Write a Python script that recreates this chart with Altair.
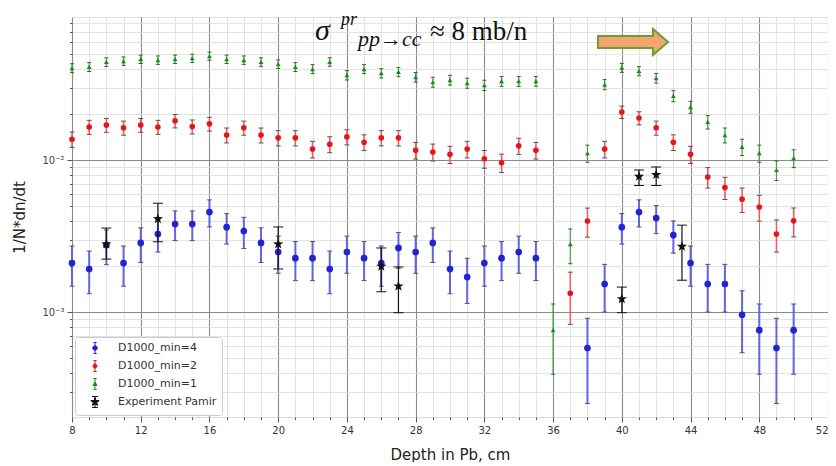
import altair as alt
import pandas as pd

# ---------------- data ----------------
depth_blue = list(range(8, 36)) + list(range(38, 51))
val_blue = [0.0021, 0.00192, 0.00276, 0.0021, 0.00285, 0.00326, 0.00379, 0.00379, 0.00455, 0.00362,
            0.00341, 0.00285, 0.00248, 0.00226, 0.00226, 0.00192, 0.00248, 0.00226, 0.0021, 0.00264,
            0.00248, 0.00285, 0.00192, 0.0017, 0.0021, 0.00226, 0.00248, 0.00226,
            0.00058, 0.00153, 0.00362, 0.00455, 0.00415, 0.00321, 0.0021, 0.00153, 0.00153, 0.00096,
            0.00076, 0.00058, 0.00076]
err_blue = [0.00062, 0.00060, 0.00071, 0.00062, 0.00073, 0.00078, 0.00084, 0.00084, 0.00092, 0.00082,
            0.00079, 0.00073, 0.00068, 0.00065, 0.00065, 0.00060, 0.00068, 0.00065, 0.00062, 0.00070,
            0.00068, 0.00073, 0.00060, 0.00056, 0.00062, 0.00065, 0.00068, 0.00065,
            0.00033, 0.00053, 0.00082, 0.00092, 0.00087, 0.00077, 0.00062, 0.00053, 0.00053, 0.00042,
            0.00037, 0.00033, 0.00037]

depth_red = list(range(8, 36)) + list(range(37, 51))
val_red = [0.0137, 0.0165, 0.0170, 0.0163, 0.0170, 0.0165, 0.0181, 0.0166, 0.0173, 0.0146,
           0.0163, 0.0146, 0.0140, 0.0140, 0.0118, 0.0127, 0.0142, 0.0131, 0.0140, 0.0140,
           0.0116, 0.0113, 0.0109, 0.0118, 0.0102, 0.0096, 0.0124, 0.0116,
           0.00133, 0.00397, 0.0118, 0.0207, 0.0189, 0.0163, 0.0131, 0.0109, 0.00773, 0.0066,
           0.00553, 0.00491, 0.00326, 0.00398]
err_red = [0.00159, 0.00175, 0.00177, 0.00173, 0.00177, 0.00175, 0.00183, 0.00175, 0.00179, 0.00164,
           0.00173, 0.00164, 0.00161, 0.00161, 0.00148, 0.00153, 0.00162, 0.00155, 0.00161, 0.00161,
           0.00146, 0.00144, 0.00142, 0.00148, 0.00137, 0.00133, 0.00151, 0.00146,
           0.00050, 0.00086, 0.00148, 0.00195, 0.00187, 0.00173, 0.00155, 0.00142, 0.00119, 0.00110,
           0.00101, 0.00095, 0.00078, 0.00086]

depth_green = list(range(8, 51))
val_green = [0.0403, 0.041, 0.0442, 0.0448, 0.0461, 0.0455, 0.0461, 0.0468, 0.0483, 0.0461,
             0.0455, 0.0442, 0.0428, 0.041, 0.0397, 0.0442, 0.0362, 0.0397, 0.0373, 0.0380,
             0.0351, 0.0326, 0.0336, 0.0321, 0.0311, 0.0330, 0.0330, 0.0330,
             0.00076, 0.0028, 0.0111, 0.0314, 0.0405, 0.0385, 0.0346, 0.0264, 0.0223, 0.0178,
             0.0146, 0.0122, 0.0111, 0.0086, 0.0103]
err_green = [0.00273, 0.00275, 0.00285, 0.00287, 0.00292, 0.0029, 0.00292, 0.00294, 0.00298, 0.00292,
             0.0029, 0.00285, 0.00281, 0.00275, 0.0027, 0.00285, 0.00258, 0.0027, 0.00262, 0.00265,
             0.00254, 0.00245, 0.00249, 0.00243, 0.0024, 0.00247, 0.00247, 0.00247,
             0.00037, 0.00072, 0.00143, 0.00241, 0.00273, 0.00266, 0.00253, 0.00221, 0.00203, 0.00181,
             0.00164, 0.0015, 0.00143, 0.00126, 0.00138]

star_depth = [10, 13, 20, 26, 27, 40, 41, 42, 43.5]
star_val = [0.0028, 0.0041, 0.0028, 0.0020, 0.00148, 0.00122, 0.0078, 0.0080, 0.0027]
star_lo = [0.00223, 0.0029, 0.00192, 0.00136, 0.00099, 0.00099, 0.0068, 0.0068, 0.00162]
star_hi = [0.00357, 0.0052, 0.00363, 0.00264, 0.00198, 0.00146, 0.0086, 0.0090, 0.00373]

series_names = ["D1000_min=4", "D1000_min=2", "D1000_min=1", "Experiment Pamir"]
x_ticks = list(range(8, 53))
y_ticks = [k * 10.0 ** e for e in (-4, -3, -2) for k in range(1, 10) if k * 10.0 ** e > 2.0e-4]

# ---------------- styling ----------------
COLORS = ["#2323d2", "#e3161c", "#1b8c1b", "#111111"]
BAR_COLORS = ["#6464e4", "#f05a5a", "#44a044", "#111111"]
STAR = ("M0,-1L0.243,-0.334L0.951,-0.309L0.393,0.128L0.588,0.809L0,0.413L-0.588,0.809"
        "L-0.393,0.128L-0.951,-0.309L-0.243,-0.334Z")
CIRC = "M{r},0A{r},{r} 0 1,1 -{r},0A{r},{r} 0 1,1 {r},0Z"
BAR = "M0,-1L0,1M-{c},-1L{c},-1M-{c},1L{c},1"
LEG_SHAPES = [
    BAR.format(c=0.3) + CIRC.format(r=0.42),
    BAR.format(c=0.3) + CIRC.format(r=0.36),
    BAR.format(c=0.3) + "M0,-0.38L0.36,0.28L-0.36,0.28Z",
    BAR.format(c=0.55) + "M0,-0.8L0.194,-0.267L0.761,-0.247L0.314,0.102L0.470,0.647L0,0.33"
                         "L-0.470,0.647L-0.314,0.102L-0.761,-0.247L-0.194,-0.267Z",
]
ARROW = "M-1,-0.17L0.57,-0.17L0.57,-0.37L1,0L0.57,0.37L0.57,0.17L-1,0.17Z"

def frame(depths, vals, lo, hi, name):
    return pd.DataFrame({"depth": depths, "value": vals, "lo": lo, "hi": hi, "series": name})

dfs = [
    frame(depth_blue, val_blue, [v - e for v, e in zip(val_blue, err_blue)],
          [v + e for v, e in zip(val_blue, err_blue)], series_names[0]),
    frame(depth_red, val_red, [v - e for v, e in zip(val_red, err_red)],
          [v + e for v, e in zip(val_red, err_red)], series_names[1]),
    frame(depth_green, val_green, [v - e for v, e in zip(val_green, err_green)],
          [v + e for v, e in zip(val_green, err_green)], series_names[2]),
    frame(star_depth, star_val, star_lo, star_hi, series_names[3]),
]

major_x = "datum.value % 4 === 0"
major_y = "abs(log(datum.value)/LN10 - round(log(datum.value)/LN10)) < 0.001"

xaxis = alt.Axis(
    values=x_ticks,
    labelExpr="datum.value % 4 === 0 ? datum.label : ''",
    labelFont="DejaVu Sans", labelFontSize=10, labelColor="#333333", labelPadding=3,
    labelOverlap=False, labelFlush=False,
    labelAlign={"condition": {"test": "datum.value === 52", "value": "right"}, "value": "center"},
    tickColor="#555555",
    tickSize={"condition": {"test": major_x, "value": 5}, "value": 2.5},
    gridColor={"condition": {"test": major_x, "value": "#8a8a8a"}, "value": "#dcdcdc"},
    gridWidth={"condition": {"test": major_x, "value": 1.1}, "value": 0.8},
    domain=False,
    titleFont="DejaVu Sans", titleFontSize=15, titleFontWeight="normal", titleColor="#222222",
    titlePadding=12,
)
yaxis = alt.Axis(
    values=y_ticks,
    labelExpr="abs(datum.value - 0.01) < 1e-9 ? '10⁻²' : (abs(datum.value - 0.001) < 1e-10 ? '10⁻³' : '')",
    labelFont="DejaVu Sans", labelFontSize=10, labelColor="#444444", labelPadding=3,
    labelOverlap=False, labelFlush=False,
    tickColor="#555555",
    tickSize={"condition": {"test": major_y, "value": 5}, "value": 2.5},
    gridColor={"condition": {"test": major_y, "value": "#8a8a8a"}, "value": "#dcdcdc"},
    gridWidth={"condition": {"test": major_y, "value": 1.1}, "value": 0.8},
    domain=False,
    titleFont="DejaVu Sans", titleFontSize=15, titleFontWeight="normal", titleColor="#222222",
    titlePadding=14,
)
xscale = alt.Scale(domain=[8, 52], nice=False, zero=False)
yscale = alt.Scale(type="log", domain=[2.04e-4, 0.0873], nice=False)
XT = "Depth in Pb, cm"
YT = "1/N*dn/dt"

def X(f="depth"):
    return alt.X(f, type="quantitative", scale=xscale, axis=xaxis, title=XT)

def Y(f):
    return alt.Y(f, type="quantitative", scale=yscale, axis=yaxis, title=YT)

layers = []
marker_specs = [
    dict(shape="circle", size=45),
    dict(shape="circle", size=32),
    dict(shape="triangle-up", size=24),
    dict(shape=STAR, size=115),
]
bar_widths = [2, 1.5, 1.2, 1.2]
cap_sizes = [5, 5, 4, 10]
cap_colors = ["#555555", "#555555", "#3a5a3a", "#111111"]

for i, d in enumerate(dfs):
    base = alt.Chart(d)
    layers.append(base.mark_rule(color=BAR_COLORS[i], strokeWidth=bar_widths[i]).encode(
        x=X(), y=Y("lo"), y2="hi"))
    layers.append(base.mark_tick(orient="horizontal", size=cap_sizes[i], thickness=1,
                                 color=cap_colors[i], opacity=1).encode(x=X(), y=Y("lo")))
    layers.append(base.mark_tick(orient="horizontal", size=cap_sizes[i], thickness=1,
                                 color=cap_colors[i], opacity=1).encode(x=X(), y=Y("hi")))
    layers.append(base.mark_point(filled=True, opacity=1, color=COLORS[i],
                                  **marker_specs[i]).encode(x=X(), y=Y("value")))

# legend carrier (clipped out of view, only provides the legend)
leg_df = pd.DataFrame({"series": series_names, "depth": [30] * 4, "value": [1e-6] * 4})
leg = alt.Legend(orient="none", legendX=3, legendY=320, title=None,
                 strokeColor="#cccccc", fillColor="#ffffff", padding=5, cornerRadius=3,
                 labelFont="DejaVu Sans", labelFontSize=11, labelColor="#333333",
                 symbolSize=120, symbolStrokeWidth=1.0, symbolOffset=9, labelOffset=17,
                 rowPadding=2)
layers.append(alt.Chart(leg_df).mark_point(filled=True, opacity=1, clip=True, strokeWidth=1.0).encode(
    x=X(), y=Y("value"),
    color=alt.Color("series:N", scale=alt.Scale(domain=series_names, range=COLORS), legend=leg),
    stroke=alt.Stroke("series:N", scale=alt.Scale(domain=series_names, range=COLORS), legend=leg),
    shape=alt.Shape("series:N", scale=alt.Scale(domain=series_names, range=LEG_SHAPES), legend=leg),
))

# annotation: sigma formula and orange arrow
one = pd.DataFrame({"a": [0]})
def txt(t, x, y, size, style):
    return alt.Chart(one).mark_text(text=t, font="Liberation Serif", fontSize=size, fontStyle=style,
                                    align="left", baseline="alphabetic", color="#111111").encode(
        x=alt.value(x), y=alt.value(y))

layers += [
    txt("σ", 243, 23, 30, "italic"),
    txt("pr", 269, 8, 18, "italic"),
    txt("pp→cc", 286, 29, 22, "italic"),
    txt("≈ 8 mb/n", 358, 23, 27, "normal"),
]
layers.append(alt.Chart(one).mark_point(shape=ARROW, size=4900, filled=True, opacity=1,
                                        fill="#f4a46e", stroke="#6e9a3c", strokeWidth=2).encode(
    x=alt.value(561), y=alt.value(25)))

chart = alt.layer(*layers).properties(
    width=756, height=400,
    autosize=alt.AutoSizeParams(type="none"),
    padding={"left": 64, "top": 9, "right": 0, "bottom": 45},
).configure_view(stroke="#333333", strokeWidth=1).configure(background="white")

chart.save("out.html", embed_options={"renderer": "svg", "actions": False})
